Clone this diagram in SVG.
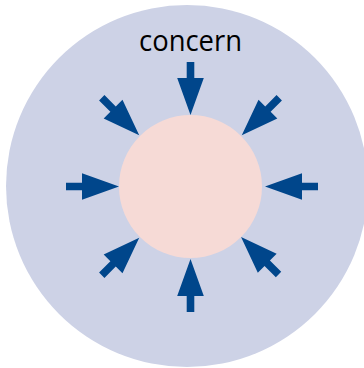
<svg xmlns="http://www.w3.org/2000/svg" xmlns:xlink="http://www.w3.org/1999/xlink" width="364" height="368" viewBox="0 0 364 368">
  <style>
    .outer { fill: #cdd2e6; }
    .inner { fill: #f6dad6; }
    .arrow { fill: #00468b; }
    .label { font-family: "Open Sans", "Noto Sans", "Liberation Sans", sans-serif; font-size: 30px; fill: #000; }
  </style>
  <defs>
    <polygon id="arr" class="arrow" points="-3.8,-53 3.8,-53 3.8,-37 13.3,-37 0,0 -13.3,-37 -3.8,-37"/>
  </defs>
  <g id="outer-circle">
    <circle class="outer" cx="187" cy="186" r="181"/>
  </g>
  <g id="inner-circle">
    <circle class="inner" cx="190.5" cy="186.5" r="71.5"/>
  </g>
  <g id="label">
    <text class="label" x="190.5" y="51" text-anchor="middle" textLength="103" lengthAdjust="spacingAndGlyphs">concern</text>
  </g>
  <g id="connectors">
    <use xlink:href="#arr" transform="rotate(0 190.5 186.5) translate(190.5 115)"/>
    <use xlink:href="#arr" transform="rotate(45 190.5 186.5) translate(190.5 114)"/>
    <use xlink:href="#arr" transform="rotate(90 190.5 186.5) translate(190.5 112)"/>
    <use xlink:href="#arr" transform="rotate(135 190.5 186.5) translate(190.5 115)"/>
    <use xlink:href="#arr" transform="rotate(180 190.5 186.5) translate(190.5 114)"/>
    <use xlink:href="#arr" transform="rotate(225 190.5 186.5) translate(190.5 114)"/>
    <use xlink:href="#arr" transform="rotate(270 190.5 186.5) translate(190.5 115)"/>
    <use xlink:href="#arr" transform="rotate(315 190.5 186.5) translate(190.5 114)"/>
  </g>
</svg>
